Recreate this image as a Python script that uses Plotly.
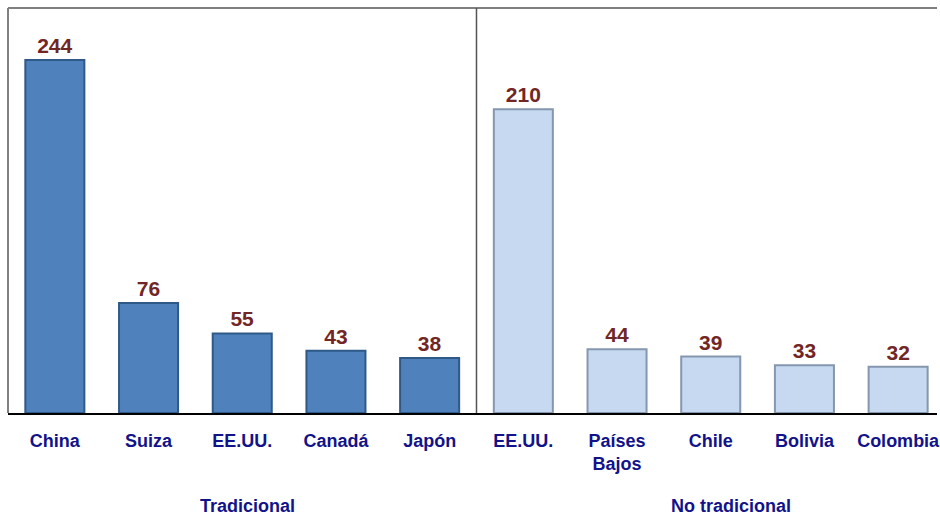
import plotly.graph_objects as go

trad_countries = ["China", "Suiza", "EE.UU.", "Canadá", "Japón"]
trad_values = [244, 76, 55, 43, 38]
notrad_countries = ["EE.UU.", "Países<br>Bajos", "Chile", "Bolivia", "Colombia"]
notrad_values = [210, 44, 39, 33, 32]
group_labels = ["Tradicional", "No tradicional"]

FONT = "Liberation Sans, Arial, sans-serif"
VAL_COLOR = "#722626"
CAT_COLOR = "#12128A"

n1 = len(trad_values)
x_trad = list(range(n1))
x_notrad = list(range(n1, n1 + len(notrad_values)))

fig = go.Figure()
fig.add_trace(go.Bar(
    x=x_trad, y=trad_values, width=0.63,
    marker=dict(color="#4F81BD", line=dict(color="#2F5A88", width=2)),
    text=["<b>%d</b>" % v for v in trad_values], textposition="outside",
    textfont=dict(family=FONT, size=21, color=VAL_COLOR),
    cliponaxis=False, showlegend=False, hoverinfo="skip",
))
fig.add_trace(go.Bar(
    x=x_notrad, y=notrad_values, width=0.63,
    marker=dict(color="#C6D9F1", line=dict(color="#8597AE", width=2)),
    text=["<b>%d</b>" % v for v in notrad_values], textposition="outside",
    textfont=dict(family=FONT, size=21, color=VAL_COLOR),
    cliponaxis=False, showlegend=False, hoverinfo="skip",
))

# border / separator
fig.add_shape(type="line", xref="paper", yref="paper", x0=0, x1=1, y0=1, y1=1,
              line=dict(color="#808080", width=2))
fig.add_shape(type="line", xref="paper", yref="paper", x0=0, x1=0, y0=0, y1=1,
              line=dict(color="#808080", width=2))
fig.add_shape(type="line", xref="x", yref="paper", x0=n1 - 0.5, x1=n1 - 0.5, y0=0, y1=1,
              line=dict(color="#555555", width=1.5))

fig.add_annotation(x=(n1 - 1) / 2 + 0.06, y=-0.23, xref="x", yref="paper", text="<b>%s</b>" % group_labels[0],
                   showarrow=False, font=dict(family=FONT, size=18, color=CAT_COLOR), yanchor="middle")
fig.add_annotation(x=n1 + (len(notrad_values) - 1) / 2 + 0.22, y=-0.23, xref="x", yref="paper",
                   text="<b>%s</b>" % group_labels[1],
                   showarrow=False, font=dict(family=FONT, size=18, color=CAT_COLOR), yanchor="middle")

fig.update_layout(
    width=940, height=519,
    margin=dict(l=8, r=0, t=8, b=106),
    paper_bgcolor="white", plot_bgcolor="white",
    xaxis=dict(range=[-0.5, -0.5 + 932 / 94], tickvals=x_trad + x_notrad,
               ticktext=["<b>%s</b>" % c for c in trad_countries + notrad_countries],
               tickfont=dict(family=FONT, size=18, color=CAT_COLOR),
               ticklabeloverflow="allow", ticklabelstandoff=10,
               showline=True, linecolor="black", linewidth=2, ticks="", showgrid=False,
               zeroline=False, fixedrange=True),
    yaxis=dict(range=[0, 280], visible=False, showgrid=False, zeroline=False, fixedrange=True),
)

post = ("document.body.style.margin='0';document.body.style.overflow='hidden';"
        "document.documentElement.style.overflow='hidden';")
fig.write_html("out.html", post_script=post, config={"displayModeBar": False})
